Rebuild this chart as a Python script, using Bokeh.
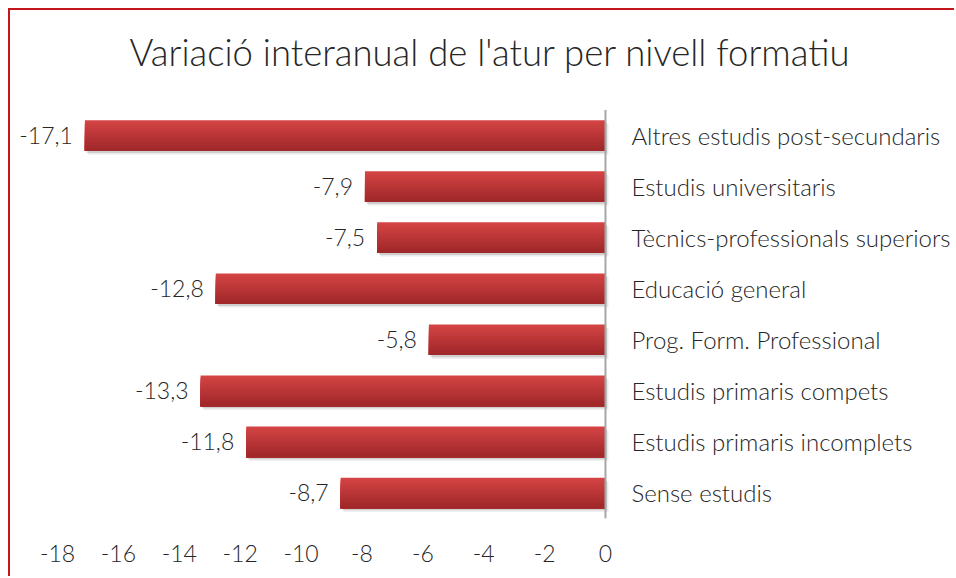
from bokeh.plotting import figure
from bokeh.models import FixedTicker, ColumnDataSource, Column
from bokeh.core.properties import value
from bokeh.embed import file_html
from bokeh.resources import INLINE

# ---- data (top to bottom as in the chart) ----
categories = [
    "Altres estudis post-secundaris",
    "Estudis universitaris",
    "Tècnics-professionals superiors",
    "Educació general",
    "Prog. Form. Professional",
    "Estudis primaris compets",
    "Estudis primaris incomplets",
    "Sense estudis",
]
values = [-17.1, -7.9, -7.5, -12.8, -5.8, -13.3, -11.8, -8.7]
tick_values = [-18, -16, -14, -12, -10, -8, -6, -4, -2, 0]
tick_labels = ["-18", "-16", "-14", "-12", "-10", "-8", "-6", "-4", "-2", "0"]
title_text = "Variació interanual de l'atur per nivell formatiu"

FONT = "'Lato Light', Lato"
TEXT_COLOR = "#262626"

n = len(categories)
ypos = [n - 1 - i for i in range(n)]
value_text = [("%.1f" % v).replace(".", ",") for v in values]

p = figure(
    width=944, height=566,
    x_range=(-19.544, 11.465), y_range=(-0.5, n - 0.02),
    output_backend="svg", toolbar_location=None,
    min_border_left=0, min_border_right=0,
    min_border_top=75, min_border_bottom=58,
)

p.title.text = title_text
p.title.align = "left"
p.title.offset = 119
p.title.vertical_align = "bottom"
p.title.text_font = FONT
p.title.text_font_size = "36.5px"
p.title.text_font_style = "normal"
p.title.text_color = TEXT_COLOR
p.title.standoff = 24

p.outline_line_color = None
p.xgrid.visible = False
p.ygrid.visible = False
p.yaxis.visible = False

p.xaxis.ticker = FixedTicker(ticks=tick_values)
p.xaxis.major_label_overrides = {t: l for t, l in zip(tick_values, tick_labels)}
p.xaxis.axis_line_color = None
p.xaxis.major_tick_line_color = None
p.xaxis.minor_tick_line_color = None
p.xaxis.major_label_text_font = FONT
p.xaxis.major_label_text_font_size = "23px"
p.xaxis.major_label_text_color = TEXT_COLOR
p.xaxis.major_label_standoff = 20

bar_h = 0.6
zeros = [0] * n

# soft shadow
for dx, dy, a in [(0.10, -0.07, 0.08), (0.05, -0.04, 0.12)]:
    p.hbar(y=[y + dy for y in ypos], left=[v + dx for v in values], right=[dx] * n,
           height=bar_h, fill_color="#000000", fill_alpha=a, line_color=None)

# gradient bars built from nested slices (each slice runs from its top to the bar bottom)
K = 16
top_rgb = (0xD4, 0x44, 0x44)
bot_rgb = (0xA0, 0x28, 0x2A)
for j in range(K):
    t = j / (K - 1)
    r = int(top_rgb[0] + (bot_rgb[0] - top_rgb[0]) * t)
    g = int(top_rgb[1] + (bot_rgb[1] - top_rgb[1]) * t)
    b = int(top_rgb[2] + (bot_rgb[2] - top_rgb[2]) * t)
    col = "#%02x%02x%02x" % (r, g, b)
    sh = bar_h * (1 - j / K)
    ys = [y - bar_h / 2 + sh / 2 for y in ypos]
    p.hbar(y=ys, left=values, right=zeros, height=sh,
           fill_color=col, line_color=None)

# zero axis line (covers the category band only)
p.segment(x0=[0], y0=[-0.5], x1=[0], y1=[n - 0.5], line_color="#a6a6a6", line_width=2)

src = ColumnDataSource(dict(y=ypos, v=values, vt=value_text, cat=categories, z=zeros))
p.text(x="v", y="y", text="vt", source=src, x_offset=-12, text_align="right",
       text_baseline="middle", text_font=value(FONT), text_font_size="23px",
       text_color=TEXT_COLOR)
p.text(x="z", y="y", text="cat", source=src, x_offset=26, text_align="left",
       text_baseline="middle", text_font=value(FONT), text_font_size="24px",
       text_color=TEXT_COLOR)

layout = Column(children=[p], styles={
    "border-left": "2px solid #c4161c",
    "border-top": "2px solid #c4161c",
    "margin-left": "8px",
    "margin-top": "8px",
})

open("out.html", "w").write(file_html(layout, INLINE))
